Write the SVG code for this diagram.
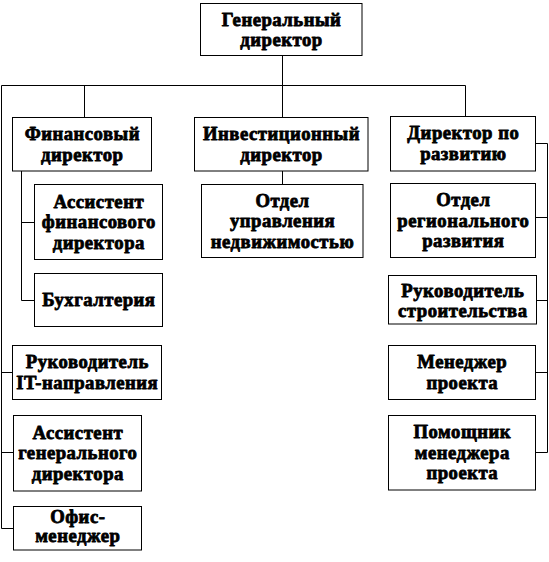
<svg xmlns="http://www.w3.org/2000/svg" width="549" height="562" viewBox="0 0 549 562" font-family="Liberation Serif, Times New Roman, serif">
<style>
.box{fill:#fff;stroke:#000;stroke-width:1}
.lbl{font-size:18.7px;font-weight:bold;fill:#000;stroke:#000;stroke-width:0.8;stroke-linejoin:round;text-anchor:middle;letter-spacing:0.5px}
.con{fill:none;stroke:#000;stroke-width:1}
</style>
<rect width="549" height="562" fill="#fff"/>
<g id="connectors" class="con">
<path d="M282.5 55.5V85.5"/>
<path d="M1.5 528.5V85.5H465.5V116"/>
<path d="M84.5 85.5V117.5"/>
<path d="M282.5 85.5V117.5"/>
<path d="M1.5 372.5H12.5"/>
<path d="M1.5 452.5H13.5"/>
<path d="M1.5 528.5H13.5"/>
<path d="M21.5 171V300.5H34.5"/>
<path d="M21.5 222.5H34.5"/>
<path d="M282.5 171V184"/>
<path d="M535.5 143.5H547.5V452.5H535.5"/>
<path d="M535.5 217.5H547.5"/>
<path d="M536.5 300.5H547.5"/>
<path d="M535.5 372.5H547.5"/>
</g>
<g id="gen">
<rect class="box" x="200.5" y="3.5" width="161.5" height="52"/>
<text class="lbl"><tspan x="281.5" y="25.8">Генеральный</tspan><tspan x="281.5" y="46.3">директор</tspan></text>
</g>
<g id="fin">
<rect class="box" x="12.5" y="117.5" width="139" height="53.5"/>
<text class="lbl"><tspan x="82.3" y="140.3">Финансовый</tspan><tspan x="82.3" y="160.8">директор</tspan></text>
</g>
<g id="inv">
<rect class="box" x="194.5" y="117.5" width="173.5" height="53.5"/>
<text class="lbl"><tspan x="281.5" y="140.3">Инвестиционный</tspan><tspan x="281.5" y="160.8">директор</tspan></text>
</g>
<g id="dev">
<rect class="box" x="390.5" y="116.5" width="145" height="54.5"/>
<text class="lbl"><tspan x="463.3" y="139.4">Директор по</tspan><tspan x="463.3" y="159.9">развитию</tspan></text>
</g>
<g id="fin-assist">
<rect class="box" x="34.5" y="184.5" width="128" height="75"/>
<text class="lbl"><tspan x="98.8" y="207.7">Ассистент</tspan><tspan x="98.8" y="228.2">финансового</tspan><tspan x="98.8" y="248.7">директора</tspan></text>
</g>
<g id="accounting">
<rect class="box" x="34.5" y="273.5" width="128" height="53"/>
<text class="lbl"><tspan x="98.8" y="306.3">Бухгалтерия</tspan></text>
</g>
<g id="realty">
<rect class="box" x="201.5" y="184.5" width="161.5" height="73"/>
<text class="lbl"><tspan x="282.5" y="206.6">Отдел</tspan><tspan x="282.5" y="227.1">управления</tspan><tspan x="282.5" y="247.6">недвижимостью</tspan></text>
</g>
<g id="regional">
<rect class="box" x="390.5" y="183.5" width="145" height="74"/>
<text class="lbl"><tspan x="463.3" y="206.2">Отдел</tspan><tspan x="463.3" y="226.7">регионального</tspan><tspan x="463.3" y="247.2">развития</tspan></text>
</g>
<g id="construction">
<rect class="box" x="388.5" y="275.5" width="148" height="48.5"/>
<text class="lbl"><tspan x="462.8" y="296.5">Руководитель</tspan><tspan x="462.8" y="316.5">строительства</tspan></text>
</g>
<g id="it">
<rect class="box" x="12.5" y="345.5" width="149" height="54"/>
<text class="lbl"><tspan x="87.3" y="368.2">Руководитель</tspan><tspan x="87.3" y="388.7">IT-направления</tspan></text>
</g>
<g id="pm">
<rect class="box" x="388.5" y="345.5" width="147" height="54"/>
<text class="lbl"><tspan x="462.3" y="368.2">Менеджер</tspan><tspan x="462.3" y="388.7">проекта</tspan></text>
</g>
<g id="gen-assist">
<rect class="box" x="13.5" y="415.5" width="128" height="75.5"/>
<text class="lbl"><tspan x="77.8" y="438.8">Ассистент</tspan><tspan x="77.8" y="459.3">генерального</tspan><tspan x="77.8" y="479.8">директора</tspan></text>
</g>
<g id="pm-assist">
<rect class="box" x="388.5" y="415.5" width="147" height="74.5"/>
<text class="lbl"><tspan x="462.3" y="438.3">Помощник</tspan><tspan x="462.3" y="458.8">менеджера</tspan><tspan x="462.3" y="479.3">проекта</tspan></text>
</g>
<g id="office">
<rect class="box" x="13.5" y="506.5" width="128" height="43.5"/>
<text class="lbl"><tspan x="77.8" y="523">Офис-</tspan><tspan x="77.8" y="542">менеджер</tspan></text>
</g>
</svg>
